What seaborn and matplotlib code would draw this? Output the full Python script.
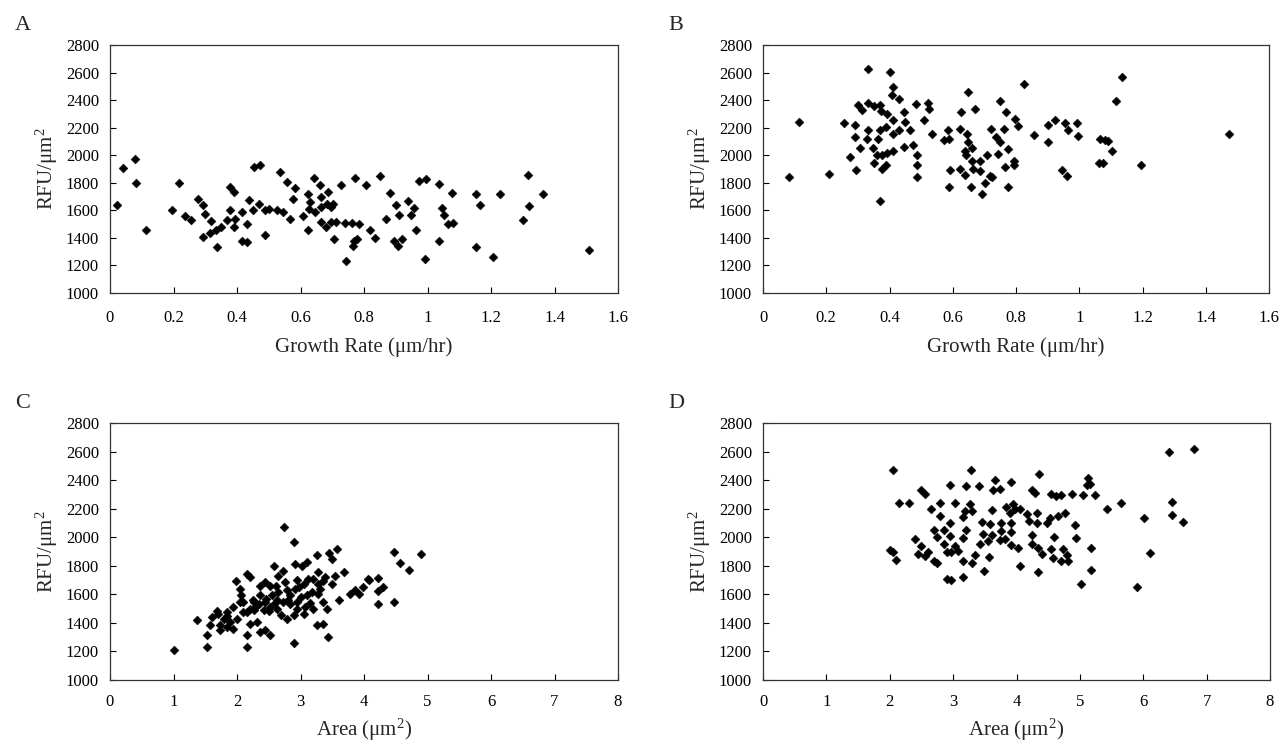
import numpy as np
import pandas as pd
import matplotlib
matplotlib.use('Agg')
import matplotlib.pyplot as plt
import seaborn as sns

# Panel A: growth rate vs RFU/um2
a_growth = [0.042, 0.081, 0.021, 0.113, 0.08, 0.216, 0.195, 0.235, 0.255, 0.277, 0.293, 0.298, 0.293,
            0.316, 0.319, 0.337, 0.335, 0.351, 0.368, 0.379, 0.389, 0.377, 0.395, 0.389, 0.416, 0.416,
            0.432, 0.432, 0.437, 0.453, 0.472, 0.451, 0.468, 0.489, 0.487, 0.5, 0.526, 0.537, 0.545,
            0.556, 0.568, 0.577, 0.582, 0.607, 0.623, 0.623, 0.629, 0.626, 0.644, 0.647, 0.661, 0.663,
            0.665, 0.684, 0.687, 0.695, 0.702, 0.663, 0.679, 0.695, 0.711, 0.705, 0.726, 0.742, 0.74,
            0.763, 0.784, 0.768, 0.765, 0.779, 0.771, 0.805, 0.85, 0.881, 0.902, 0.939, 0.958, 0.909,
            0.948, 0.87, 0.964, 0.973, 0.996, 1.035, 1.076, 1.045, 1.053, 1.066, 1.079, 1.035, 0.991,
            1.154, 1.164, 1.227, 1.152, 1.206, 1.316, 1.321, 1.3, 1.365, 1.508, 0.836, 0.82, 0.894,
            0.906, 0.919]
a_rfu = [1905, 1795, 1637, 1454, 1975, 1795, 1605, 1556, 1527, 1685, 1637, 1576, 1410,
         1434, 1520, 1332, 1454, 1478, 1532, 1771, 1734, 1600, 1539, 1478, 1588, 1376,
         1373, 1498, 1673, 1917, 1929, 1605, 1649, 1605, 1424, 1612, 1605, 1880, 1588,
         1807, 1539, 1685, 1759, 1556, 1722, 1454, 1661, 1612, 1832, 1588, 1783, 1698,
         1624, 1649, 1734, 1624, 1644, 1515, 1478, 1515, 1515, 1393, 1783, 1234, 1507,
         1507, 1502, 1380, 1344, 1393, 1832, 1783, 1849, 1727, 1637, 1666, 1620, 1563,
         1568, 1539, 1454, 1812, 1827, 1788, 1727, 1617, 1563, 1502, 1510, 1380, 1246,
         1722, 1637, 1722, 1337, 1259, 1856, 1632, 1527, 1715, 1312, 1400, 1454, 1380,
         1344, 1393]

# Panel B: growth rate vs RFU/um2
b_growth = [0.331, 0.402, 0.411, 0.407, 0.43, 0.299, 0.331, 0.352, 0.371, 0.313, 0.373, 0.392, 0.446,
            0.484, 0.523, 0.525, 0.255, 0.113, 0.292, 0.331, 0.371, 0.389, 0.411, 0.429, 0.449, 0.465,
            0.411, 0.509, 0.534, 0.292, 0.328, 0.363, 0.307, 0.349, 0.36, 0.376, 0.392, 0.411, 0.447,
            0.473, 0.486, 0.274, 0.295, 0.352, 0.376, 0.389, 0.486, 0.486, 0.081, 0.209, 0.371, 0.586,
            0.623, 0.649, 0.671, 0.625, 0.571, 0.589, 0.644, 0.649, 0.639, 0.661, 0.642, 0.661, 0.686,
            0.707, 0.592, 0.623, 0.639, 0.665, 0.686, 0.718, 0.702, 0.723, 0.588, 0.658, 0.694, 0.72,
            0.737, 0.75, 0.748, 0.768, 0.762, 0.744, 0.766, 0.776, 0.776, 0.826, 1.136, 1.116, 0.797,
            0.807, 0.794, 0.794, 0.858, 0.902, 0.923, 0.955, 0.994, 0.963, 0.997, 0.902, 0.944, 0.96,
            1.065, 1.081, 1.091, 1.102, 1.063, 1.076, 1.195, 1.473]
b_rfu = [2624, 2607, 2493, 2437, 2405, 2368, 2380, 2356, 2363, 2327, 2322, 2298, 2315,
         2371, 2376, 2334, 2237, 2241, 2217, 2180, 2180, 2205, 2254, 2180, 2241, 2185,
         2151, 2254, 2151, 2132, 2120, 2120, 2054, 2054, 1998, 1998, 2015, 2034, 2063,
         2071, 2005, 1985, 1893, 1941, 1900, 1932, 1932, 1839, 1839, 1863, 1668, 2180,
         2193, 2461, 2339, 2315, 2107, 2120, 2151, 2095, 2034, 2054, 1998, 1961, 1961,
         1998, 1893, 1900, 1859, 1900, 1888, 1851, 1802, 1839, 1771, 1771, 1722, 2193,
         2132, 2095, 2395, 2315, 2193, 2010, 1917, 2046, 1771, 2517, 2566, 2395, 2266,
         2210, 1961, 1932, 2146, 2219, 2256, 2237, 2232, 2183, 2139, 2093, 1893, 1851,
         2120, 2112, 2102, 2029, 1941, 1946, 1929, 2151]

# Panel C: area vs RFU/um2
c_area = [2.74, 2.89, 3.58, 3.45, 3.26, 3.49, 3.1, 3.03, 2.91, 2.58, 2.73, 2.65, 3.68, 3.54, 3.28, 3.39,
          3.49, 2.15, 2.21, 1.98, 2.04, 2.07, 2.1, 2.26, 2.31, 2.36, 2.44, 2.52, 2.36, 2.44, 2.52, 2.55,
          2.61, 2.65, 2.76, 2.78, 2.84, 2.91, 2.97, 3.05, 3.12, 3.2, 3.28, 3.36, 3.18, 3.1, 3.28, 3.36,
          3.41, 3.6, 3.78, 3.86, 3.99, 4.07, 2.94, 2.84, 2.73, 2.63, 2.7, 2.78, 2.89, 2.94, 3.07, 3.2,
          3.05, 3.26, 3.36, 3.44, 2.89, 2.15, 2.44, 2.52, 2.36, 2.31, 2.21, 2.1, 2.0, 1.94, 1.89, 1.84,
          1.79, 1.73, 1.68, 1.6, 1.58, 1.52, 1.52, 1.37, 1.0, 1.73, 1.94, 1.84, 2.15, 2.26, 2.42, 2.63,
          2.15, 2.05, 4.47, 4.9, 4.56, 4.71, 4.08, 4.22, 4.3, 3.92, 4.22, 4.22, 4.47,
          2.25, 2.3, 2.2, 2.35, 2.45, 2.6, 2.8, 3.0, 3.15, 1.85, 1.7, 2.5, 2.95, 3.3]
c_rfu = [2074, 1967, 1916, 1889, 1875, 1847, 1824, 1801, 1812, 1801, 1766, 1731, 1759, 1731, 1759, 1719,
         1673, 1742, 1719, 1696, 1638, 1592, 1545, 1545, 1522, 1661, 1684, 1661, 1592, 1545, 1511, 1592,
         1661, 1615, 1684, 1627, 1592, 1638, 1650, 1673, 1708, 1708, 1673, 1696, 1615, 1592, 1603, 1545,
         1499, 1557, 1603, 1627, 1650, 1708, 1545, 1534, 1545, 1499, 1453, 1430, 1453, 1499, 1511, 1499,
         1464, 1383, 1395, 1302, 1256, 1232, 1349, 1314, 1337, 1406, 1395, 1476, 1430, 1511, 1406, 1372,
         1430, 1383, 1481, 1441, 1383, 1314, 1232, 1418, 1209, 1348, 1360, 1476, 1476, 1488, 1488, 1557,
         1314, 1545, 1898, 1880, 1817, 1773, 1703, 1712, 1650, 1600, 1620, 1529, 1545,
         1560, 1520, 1500, 1530, 1570, 1540, 1560, 1580, 1540, 1450, 1460, 1480, 1700, 1640]

# Panel D: area vs RFU/um2
d_area = [3.28, 4.35, 5.13, 5.16, 5.24, 5.11, 5.65, 5.43, 2.95, 3.21, 3.41, 3.66, 3.63, 3.74, 3.92, 4.24,
          4.29, 4.55, 4.63, 4.71, 4.87, 5.05, 3.03, 3.26, 3.19, 3.29, 3.16, 3.61, 3.84, 3.95, 3.98, 4.05,
          3.89, 4.17, 4.33, 4.19, 4.33, 4.48, 4.53, 4.66, 4.77, 4.92, 2.95, 3.45, 3.58, 3.76, 3.92, 3.21,
          3.47, 3.61, 3.76, 3.92, 2.95, 3.16, 3.42, 3.55, 3.74, 3.82, 3.92, 4.03, 4.24, 4.24, 4.34, 4.4,
          4.59, 4.94, 4.55, 4.74, 4.8, 4.71, 4.58, 4.82, 5.17, 3.03, 3.08, 2.97, 3.16, 3.34, 3.29, 3.57,
          4.05, 4.34, 3.49, 3.16, 2.97, 5.18, 5.01, 6.45, 6.01, 6.45, 6.62, 6.1, 5.9, 6.4, 6.8,
          2.05, 2.0, 2.05, 2.1, 2.15, 2.3, 2.4, 2.45, 2.5, 2.55, 2.5, 2.55, 2.6, 2.65, 2.7, 2.75,
          2.8, 2.8, 2.85, 2.9, 2.9, 2.85, 2.7, 2.75]
d_rfu = [2468, 2445, 2415, 2376, 2299, 2369, 2241, 2199, 2369, 2357, 2357, 2399, 2329, 2339, 2385, 2329,
         2311, 2306, 2292, 2299, 2306, 2299, 2241, 2230, 2183, 2183, 2144, 2190, 2213, 2230, 2195, 2195,
         2172, 2160, 2172, 2114, 2097, 2102, 2137, 2148, 2172, 2083, 2102, 2107, 2090, 2102, 2102, 2051,
         2021, 2014, 2044, 2037, 2009, 1998, 1951, 1974, 1981, 1991, 1944, 1928, 2014, 1951, 1928, 1882,
         2005, 1998, 1916, 1916, 1875, 1835, 1851, 1835, 1928, 1940, 1905, 1893, 1835, 1875, 1819, 1858,
         1800, 1754, 1766, 1719, 1703, 1770, 1673, 2246, 2137, 2153, 2107, 1886, 1650, 2600, 2615,
         2470, 1910, 1900, 1840, 2240, 2240, 1990, 1880, 2330, 2300, 1940, 1870, 1900, 2200, 2050, 1820,
         2240, 2150, 2050, 1900, 1710, 1950, 1830, 2000]

sns.set_style('ticks')
plt.rcParams['font.family'] = ['Liberation Serif', 'DejaVu Serif']
plt.rcParams['mathtext.default'] = 'regular'

W, H = 1285, 749
fig = plt.figure(figsize=(W / 100, H / 100), dpi=100)

def box(l, t, r, b):
    return [l / W, 1 - b / H, (r - l) / W, (b - t) / H]

growth_ticks = ['0', '0.2', '0.4', '0.6', '0.8', '1', '1.2', '1.4', '1.6']
area_ticks = [str(i) for i in range(9)]

# letter, rect, x, y, xlim, xticks, xticklabels, xlabel, xtick pad, xlabel pad
panels = [
    ('A', box(110, 45, 618, 293), a_growth, a_rfu, (0, 1.6), np.arange(0, 1.61, 0.2),
     growth_ticks, 'Growth Rate (μm/hr)', 12, 8),
    ('B', box(763, 45, 1269, 293), b_growth, b_rfu, (0, 1.6), np.arange(0, 1.61, 0.2),
     growth_ticks, 'Growth Rate (μm/hr)', 12, 8),
    ('C', box(110, 423, 618, 680), c_area, c_rfu, (0, 8), np.arange(0, 9),
     area_ticks, 'Area (μm$^2$)', 10, 5),
    ('D', box(763, 423, 1270, 680), d_area, d_rfu, (0, 8), np.arange(0, 9),
     area_ticks, 'Area (μm$^2$)', 10, 5),
]

for letter, rect, xs, ys, xlim, xt, xtl, xlab, xpad, lpad in panels:
    ax = fig.add_axes(rect)
    df = pd.DataFrame({'x': xs, 'y': ys})
    sns.scatterplot(data=df, x='x', y='y', ax=ax, marker='D', s=20,
                    color='black', edgecolor='black', linewidth=0.4)
    ax.set_xlim(*xlim)
    ax.set_ylim(1000, 2800)
    ax.set_xticks(xt)
    ax.set_xticklabels(xtl)
    ax.set_yticks(np.arange(1000, 2801, 200))
    ax.tick_params(direction='in', length=4, width=0.8, labelsize=12, colors='black')
    ax.tick_params(axis='x', pad=xpad)
    ax.tick_params(axis='y', pad=8)
    for sp in ax.spines.values():
        sp.set_visible(True)
        sp.set_color('#333333')
        sp.set_linewidth(0.9)
    ax.set_xlabel(xlab, fontsize=15, labelpad=lpad)
    ax.set_ylabel('RFU/μm$^2$', fontsize=15, labelpad=4)
    fig.text(rect[0] - 95 / W, rect[1] + rect[3] + 10 / H, letter, fontsize=16, va='bottom', ha='left')

fig.savefig('out.png', dpi=100)
